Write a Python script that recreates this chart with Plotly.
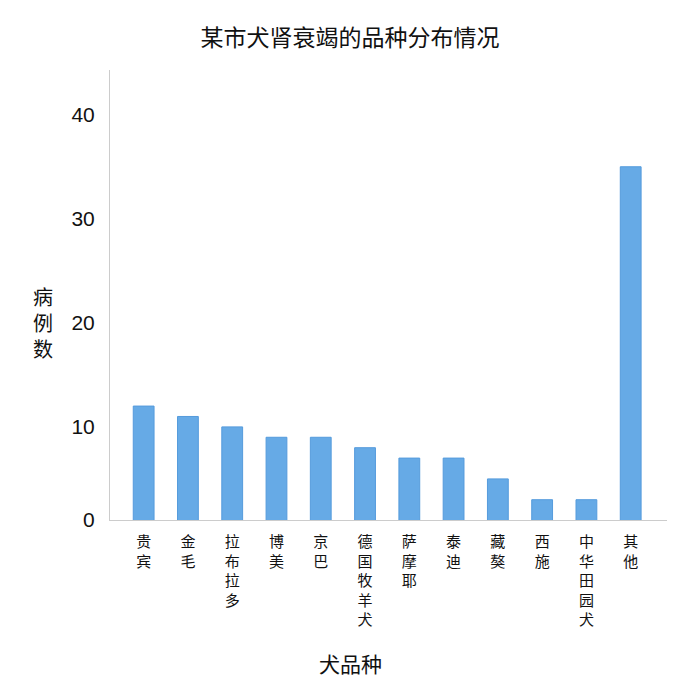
import plotly.graph_objects as go

categories = ["贵宾", "金毛", "拉布拉多", "博美", "京巴", "德国牧羊犬", "萨摩耶", "泰迪", "藏獒", "西施", "中华田园犬", "其他"]
counts = [12, 11, 10, 9, 9, 8, 7, 7, 5, 3, 3, 35]
y_tick_values = [0, 10, 20, 30, 40]
y_tick_labels = ["0", "10", "20", "30", "40"]

FONT = "Noto Sans CJK SC"
y_min, y_max = 1.05, 44.3

vertical_labels = ["<br>".join(list(c)) for c in categories]
tickvals_y = [max(v, y_min) for v in y_tick_values]

fig = go.Figure(go.Bar(
    x=categories,
    y=counts,
    marker=dict(color="#66aae6", line=dict(color="#559bdc", width=1)),
    width=0.47,
))

L, R, T, B = 110, 33, 70, 180
fig.update_layout(
    width=700, height=700,
    margin=dict(l=L, r=R, t=T, b=B),
    paper_bgcolor="white", plot_bgcolor="white",
    showlegend=False,
    font=dict(family=FONT, color="#111"),
    title=dict(text="某市犬肾衰竭的品种分布情况", x=0.5, xanchor="center",
               y=1 - 38 / 700, yanchor="middle", font=dict(size=23, family=FONT, color="#111")),
    xaxis=dict(
        type="category",
        range=[-0.76, 11.82],
        tickmode="array", tickvals=categories, ticktext=vertical_labels,
        tickangle=0,
        showline=True, linecolor="#cccccc", linewidth=1,
        showgrid=False, zeroline=False, ticks="",
        ticklabelstandoff=8,
        tickfont=dict(size=15, family=FONT, color="#111"),
    ),
    yaxis=dict(
        range=[y_min, y_max],
        tickmode="array", tickvals=tickvals_y, ticktext=y_tick_labels,
        showline=True, linecolor="#cccccc", linewidth=1,
        showgrid=False, zeroline=False, ticks="",
        ticklabelstandoff=10,
        tickfont=dict(size=21, family="Liberation Sans", color="#111"),
    ),
)

pw, ph = 700 - L - R, 700 - T - B
def to_paper(px, py):
    return (px - L) / pw, (700 - B - py) / ph

ax1, ay1 = to_paper(43, 322)
ax2, ay2 = to_paper(350, 663)
fig.update_layout(annotations=[
    dict(text="病<br>例<br>数", x=ax1, y=ay1, xref="paper", yref="paper",
         xanchor="center", yanchor="middle", showarrow=False,
         font=dict(size=20, family=FONT, color="#111")),
    dict(text="犬品种", x=ax2, y=ay2, xref="paper", yref="paper",
         xanchor="center", yanchor="middle", showarrow=False,
         font=dict(size=21, family=FONT, color="#111")),
])

fig.write_html("out.html")
